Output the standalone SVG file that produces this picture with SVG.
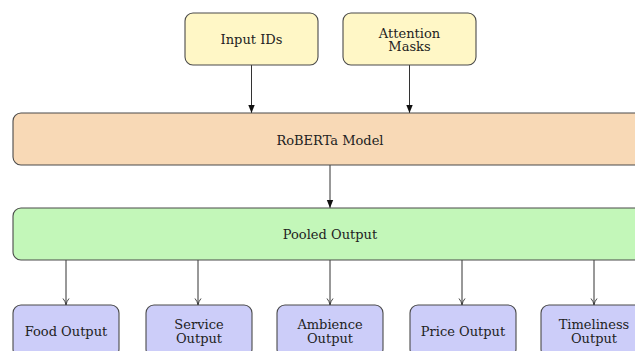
<svg xmlns="http://www.w3.org/2000/svg" width="635" height="351" viewBox="0 0 635 351">
<defs>
<style>
.box{stroke:#4a4a4a;stroke-width:1.1}
.inp{fill:#fff7c6}
.rob{fill:#f8d9b6}
.pool{fill:#c3f7b9}
.out{fill:#cccdf9}
text{font-family:"DejaVu Serif","Liberation Serif",serif;font-size:13px;fill:#222;text-anchor:middle}
.edge{stroke:#333;stroke-width:1;fill:none}
</style>
<marker id="latex" viewBox="0 0 8 8" refX="8" refY="4" markerWidth="8" markerHeight="8" markerUnits="userSpaceOnUse" orient="auto">
<path d="M0,0.8 L8,4 L0,7.2 Z" fill="#111"/>
</marker>
<marker id="to" viewBox="0 0 8 8" refX="7.5" refY="4" markerWidth="8" markerHeight="8" markerUnits="userSpaceOnUse" orient="auto">
<path d="M1,1 Q4,3.5 7.5,4 Q4,4.5 1,7" fill="none" stroke="#333" stroke-width="0.9"/>
</marker>
</defs>
<g id="connectors">
<line class="edge" x1="251.5" y1="65" x2="251.5" y2="113" marker-end="url(#latex)"/>
<line class="edge" x1="409.5" y1="65" x2="409.5" y2="113" marker-end="url(#latex)"/>
<line class="edge" x1="330" y1="165" x2="330" y2="208" marker-end="url(#latex)"/>
<line class="edge" x1="66" y1="260" x2="66" y2="305" marker-end="url(#to)"/>
<line class="edge" x1="198" y1="260" x2="198" y2="305" marker-end="url(#to)"/>
<line class="edge" x1="330" y1="260" x2="330" y2="305" marker-end="url(#to)"/>
<line class="edge" x1="462" y1="260" x2="462" y2="305" marker-end="url(#to)"/>
<line class="edge" x1="594" y1="260" x2="594" y2="305" marker-end="url(#to)"/>
</g>
<g id="input_ids">
<rect class="box inp" x="185" y="13" width="133" height="52" rx="8"/>
<text x="251.5" y="44">Input IDs</text>
</g>
<g id="attention_masks">
<rect class="box inp" x="343" y="13" width="133" height="52" rx="8"/>
<text x="409.5" y="37.5">Attention</text>
<text x="409.5" y="51">Masks</text>
</g>
<g id="roberta">
<rect class="box rob" x="13" y="113" width="634" height="52" rx="8"/>
<text x="330" y="144.5">RoBERTa Model</text>
</g>
<g id="pooled">
<rect class="box pool" x="13" y="208" width="634" height="52" rx="8"/>
<text x="330" y="239">Pooled Output</text>
</g>
<g id="food">
<rect class="box out" x="13" y="305" width="106" height="52" rx="8"/>
<text x="66" y="336">Food Output</text>
</g>
<g id="service">
<rect class="box out" x="146" y="305" width="106" height="52" rx="8"/>
<text x="199" y="329">Service</text>
<text x="199" y="342.5">Output</text>
</g>
<g id="ambience">
<rect class="box out" x="277" y="305" width="106" height="52" rx="8"/>
<text x="330" y="329">Ambience</text>
<text x="330" y="342.5">Output</text>
</g>
<g id="price">
<rect class="box out" x="410" y="305" width="106" height="52" rx="8"/>
<text x="463" y="336">Price Output</text>
</g>
<g id="timeliness">
<rect class="box out" x="541" y="305" width="106" height="52" rx="8"/>
<text x="594" y="329">Timeliness</text>
<text x="594" y="342.5">Output</text>
</g>
</svg>
